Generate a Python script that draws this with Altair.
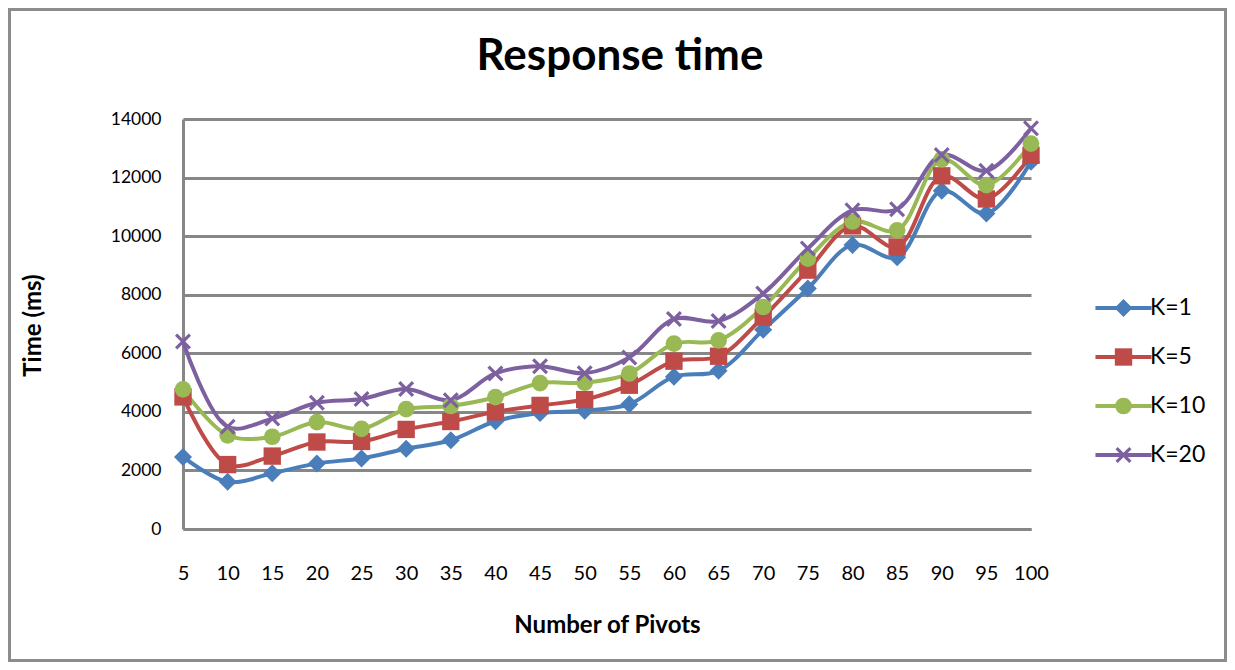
import altair as alt
import pandas as pd

pivots = [5, 10, 15, 20, 25, 30, 35, 40, 45, 50, 55, 60, 65, 70, 75, 80, 85, 90, 95, 100]
k1 = [2460, 1610, 1900, 2240, 2410, 2740, 3030, 3680, 3960, 4040, 4260, 5200, 5400, 6800, 8210, 9700, 9280, 11550, 10770, 12540]
k5 = [4510, 2200, 2490, 2970, 2990, 3400, 3670, 4000, 4220, 4420, 4910, 5730, 5900, 7240, 8840, 10350, 9630, 12060, 11270, 12760]
k10 = [4770, 3200, 3150, 3650, 3420, 4090, 4200, 4500, 4980, 5000, 5310, 6330, 6440, 7580, 9230, 10500, 10200, 12620, 11740, 13160]
k20 = [6400, 3490, 3770, 4310, 4440, 4780, 4400, 5310, 5560, 5320, 5860, 7170, 7100, 8040, 9580, 10880, 10920, 12770, 12230, 13680]
series_names = ["K=1", "K=5", "K=10", "K=20"]
series_colors = ["#4a7ebb", "#be4b48", "#98b954", "#7d60a0"]
y_ticks = [0, 2000, 4000, 6000, 8000, 10000, 12000, 14000]
chart_title = "Response time"

rows = []
for name, vals in zip(series_names, [k1, k5, k10, k20]):
    for p, v in zip(pivots, vals):
        rows.append({"Pivots": p, "K": name, "K2": name, "Time": v})
df = pd.DataFrame(rows)

FONT = "Lato"
XSHAPE = "M-1,-0.72L-0.72,-1L0,-0.28L0.72,-1L1,-0.72L0.28,0L1,0.72L0.72,1L0,0.28L-0.72,1L-1,0.72L-0.28,0Z"

x_enc = alt.X("Pivots:Q", scale=alt.Scale(domain=[5, 100], nice=False, zero=False),
              axis=alt.Axis(values=pivots, format="d", title="Number of Pivots", grid=False,
                            ticks=False, labelPadding=34, labelFontSize=20, labelFlush=False,
                            labelOverlap=False, titleY=96, titleBaseline="middle",
                            domainColor="#878787", domainWidth=3))
y_enc = alt.Y("Time:Q", scale=alt.Scale(domain=[0, 14000], nice=False),
              axis=alt.Axis(values=y_ticks, format="d", title="Time (ms)", ticks=False,
                            labelPadding=22, labelFontSize=17.5,
                            titleX=-150, titleY=206, titleBaseline="middle", titleAlign="center",
                            domainColor="#878787", domainWidth=3))

base = alt.Chart(df)

legend_common = dict(title=None, orient="none", legendX=929, legendY=177.5,
                     symbolSize=289, rowPadding=25, labelFontSize=23, labelOffset=15,
                     labelFont=FONT, padding=0)

lines = base.mark_line(interpolate="catmull-rom", strokeWidth=4).encode(
    x=x_enc,
    y=y_enc,
    color=alt.Color("K:N", scale=alt.Scale(domain=series_names, range=series_colors),
                    sort=series_names,
                    legend=alt.Legend(symbolType="M-3.3,0H3.3", symbolStrokeWidth=4,
                                      symbolFillColor="transparent", labelOpacity=0,
                                      **legend_common)),
    detail="K:N",
)

pt_legend = alt.Legend(symbolStrokeWidth=0, symbolOpacity=1, labelColor="#000000", **legend_common)

points = base.mark_point(filled=True, opacity=1).encode(
    x="Pivots:Q",
    y="Time:Q",
    color=alt.Color("K2:N", scale=alt.Scale(domain=series_names, range=series_colors),
                    sort=series_names, legend=pt_legend),
    shape=alt.Shape("K2:N", scale=alt.Scale(domain=series_names,
                                            range=["diamond", "square", "circle", XSHAPE]),
                    sort=series_names, legend=pt_legend),
    size=alt.Size("K2:N", scale=alt.Scale(domain=series_names, range=[324, 256, 484, 324]),
                  legend=None),
)

border = alt.Chart(pd.DataFrame({"a": [0]})).mark_rect(
    fill=None, stroke="#8c8c8c", strokeWidth=3
).encode(
    x=alt.value(-173.5), x2=alt.value(1042.5), y=alt.value(-109.5), y2=alt.value(541.5)
)

title_mark = alt.Chart(pd.DataFrame({"t": [chart_title]})).mark_text(
    font=FONT, fontSize=44, fontWeight="bold", color="#000000",
    align="center", baseline="alphabetic"
).encode(
    text="t:N", x=alt.value(437), y=alt.value(-49)
)

chart = alt.layer(border, title_mark, lines, points).resolve_scale(
    color="independent", shape="independent", size="independent"
).properties(
    width=848,
    height=410,
    autosize=alt.AutoSizeParams(type="none"),
    padding={"left": 175, "top": 111, "right": 196, "bottom": 133},
).configure(
    font=FONT,
).configure_view(
    stroke=None,
).configure_axis(
    labelFont=FONT, titleFont=FONT, titleFontSize=24,
    labelColor="#000000", titleColor="#000000", titleFontWeight="bold",
    gridColor="#878787", gridWidth=3, gridOpacity=1,
)

chart.save("out.html", embed_options={"renderer": "svg", "actions": False})
